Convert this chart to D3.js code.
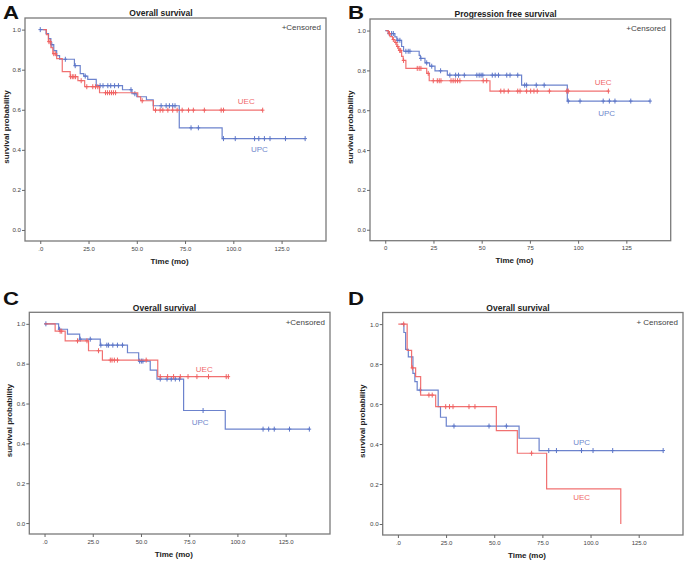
<!DOCTYPE html>
<html><head><meta charset="utf-8">
<script src="https://cdn.jsdelivr.net/npm/d3@7"></script>
<style>body{margin:0;background:#fff;} svg{display:block;font-family:"Liberation Sans",Arial,sans-serif;}</style>
</head><body><svg id="c" width="685" height="561"></svg>
<script>
// ---------- shared axis data ----------
const timeTicks = [0, 25, 50, 75, 100, 125];
const timeLabelsDec = [".0", "25.0", "50.0", "75.0", "100.0", "125.0"];
const timeLabelsInt = ["0", "25", "50", "75", "100", "125"];
const survTicks = [0, 0.2, 0.4, 0.6, 0.8, 1.0];
const survLabels = ["0.0", "0.2", "0.4", "0.6", "0.8", "1.0"];
const groups = ["UEC", "UPC"];

// ---------- Panel A: Overall survival ----------
const uecA_steps = [[3.2,0.975],[4.2,0.94],[5.5,0.91],[6.5,0.88],[8.5,0.855],[11.4,0.79],[15.5,0.765],[19.5,0.745],[23,0.715],[30.7,0.685],[50.5,0.665],[52,0.645],[58.6,0.598]];
const uecA_censor = [4.5,5.2,7,7.8,15.7,16.6,17.4,18.3,21.2,24.1,27.2,28.6,29.8,33.8,34.8,35.9,36.9,37.9,39,52.8,59.7,62.1,63.5,66.1,68.6,70.9,73.5,76.8,79.3,85,93.7,94.9,115.2];
const uecA_range = [1.5, 115.2];
const upcA_steps = [[3,0.98],[4.3,0.955],[5.5,0.925],[7,0.895],[8.5,0.87],[10,0.852],[17.7,0.82],[20.7,0.78],[22.5,0.768],[24.6,0.752],[29,0.72],[42.6,0.70],[47.5,0.68],[50,0.665],[55,0.65],[58.5,0.62],[72,0.51],[94.2,0.456]];
const upcA_censor = [0,6,13,18.1,23.3,31,32.5,35,36.5,38.5,40.5,47,49,62.6,65.2,66.9,68.6,69.8,78.1,81.9,94.9,101,111,113.2,116.1,119,127,137.2];
const upcA_range = [0, 137.2];

// ---------- Panel B: Progression free survival ----------
const uecB_steps = [[1.6,0.985],[2.5,0.97],[3.8,0.955],[5,0.94],[6,0.92],[7,0.9],[8.5,0.87],[9.3,0.85],[10.7,0.81],[21.5,0.785],[22.8,0.748],[54.3,0.696]];
const uecB_censor = [2.2,4.2,5.5,6.5,7.5,8,9.5,16.6,17.6,18.5,22.3,24.9,27,28,28.9,34.1,35.2,36.3,37.5,38.7,50.8,52.6,59.9,61.6,63.8,68.7,69.9,73.3,75.4,77.1,78.8,85.1,94.1,94.9,115.7];
const uecB_range = [0.3, 115.7];
const upcB_steps = [[1.5,0.985],[5,0.968],[6,0.951],[8.5,0.92],[9.5,0.896],[17.6,0.875],[18.2,0.86],[20.6,0.838],[23,0.821],[25.8,0.798],[32.2,0.776],[70.7,0.726],[94.4,0.646]];
const upcB_censor = [2.1,3.3,4.2,6.5,7.6,10.7,11.9,12.8,18.5,21.5,24.1,28.7,33.5,36.5,38,41,47.5,48.7,49.7,50.6,55.5,57,58.7,63,64.7,68.7,72.3,73.3,78.3,82.4,94.9,101,113,116.2,119.1,127.3,137.3];
const upcB_range = [0, 137.3];

// ---------- Panel C: Overall survival ----------
const uecC_steps = [[5.5,0.963],[10.7,0.915],[22.8,0.865],[30,0.818],[58.7,0.735]];
const uecC_censor = [8.1,8.9,17.1,22,28,34.1,35,36.2,37.8,52.7,60,63.8,66.9,70.4,74.4,79,85,94.2,95.3];
const uecC_range = [0, 95.3];
const upcC_steps = [[7.3,0.973],[11.9,0.948],[18.2,0.923],[28.9,0.893],[43,0.855],[48.8,0.813],[54.8,0.768],[58.3,0.723],[72.1,0.565],[93.7,0.4715]];
const upcC_censor = [0.7,7.8,18.5,23.7,29.2,32.3,33.2,35.4,37.8,40.4,49.3,50.2,51,60,63.5,65.7,67.8,70,82.2,113.3,116.2,119.1,127,137.3];
const upcC_range = [0, 137.3];

// ---------- Panel D: Overall survival ----------
const uecD_steps = [[4.8,0.869],[7.1,0.781],[9.2,0.737],[11.8,0.645],[19.6,0.587],[51.1,0.467],[62,0.354],[77.2,0.176],[115.7,0.0]];
const uecD_censor = [3,7.5,16.1,17.8,24.8,26.8,28.6,36.9,40,69.4];
const uecD_range = [0.2, 115.7];
const upcD_steps = [[3.1,0.958],[4,0.874],[5.4,0.836],[7.8,0.753],[8.8,0.712],[10,0.67],[20.9,0.587],[22.1,0.534],[25.1,0.49],[62.9,0.429],[73.3,0.3675]];
const upcD_censor = [11.6,29.1,47.3,56.3,78.3,82.3,95.3,101.3,111.5,137.7];
const upcD_range = [1.5, 137.7];

const titles = ["Overall survival", "Progression free survival", "Overall survival", "Overall survival"];
const letters = ["A", "B", "C", "D"];
const legendTexts = ["+Censored", "+Censored", "+Censored", "+ Censored"];

// ---------- layout ----------
const COL = {UEC: "#f06262", UPC: "#5c76c8"};
const LBL = {UEC: "#f06a6a", UPC: "#7088cc"};
const xDomain = [-7.9, 148];
const yDomain = [-0.055, 1.058];
const panels = [
  {fx:25, fy:18, fw:301, fh:223, xl:timeLabelsDec, uec:[uecA_steps,uecA_censor,uecA_range], upc:[upcA_steps,upcA_censor,upcA_range],
   lab:{UEC:[106.7,0.643], UPC:[113.5,0.401]}, tx:161, lx:3, ylx:8.5},
  {fx:370, fy:19, fw:300.7, fh:221.7, xl:timeLabelsInt, uec:[uecB_steps,uecB_censor,uecB_range], upc:[upcB_steps,upcB_censor,upcB_range],
   lab:{UEC:[113,0.742], UPC:[114.8,0.584]}, tx:505.5, lx:348, ylx:353},
  {fx:29.3, fy:312.3, fw:300.7, fh:221.7, xl:timeLabelsDec, uec:[uecC_steps,uecC_censor,uecC_range], upc:[upcC_steps,upcC_censor,upcC_range],
   lab:{UEC:[82.8,0.77], UPC:[80.7,0.508]}, tx:164.5, lx:3, ylx:11.5},
  {fx:382.7, fy:312.5, fw:300.3, fh:222.5, xl:timeLabelsDec, uec:[uecD_steps,uecD_censor,uecD_range], upc:[upcD_steps,upcD_censor,upcD_range],
   lab:{UEC:[95.4,0.133], UPC:[95.4,0.41]}, tx:518, lx:348, ylx:364.5}
];

const svg = d3.select("#c");

function survAt(steps, t) {
  let s = 1;
  for (const [st, sv] of steps) { if (st <= t) s = sv; else break; }
  return s;
}

panels.forEach((p, i) => {
  const g = svg.append("g");
  const x = d3.scaleLinear().domain(xDomain).range([p.fx, p.fx + p.fw]);
  const y = d3.scaleLinear().domain(yDomain).range([p.fy + p.fh, p.fy]);

  // letter
  const ly = p.fy < 100 ? 18.5 : 304.5;
  g.append("text").attr("transform", `translate(${p.lx},${ly}) scale(1.2,1)`)
    .attr("font-size", 18.5).attr("font-weight", 900).attr("fill", "#111").text(letters[i]);
  // title
  g.append("text").attr("x", p.tx).attr("y", p.fy - 1.6).attr("text-anchor", "middle")
    .attr("font-size", 8.5).attr("font-weight", "bold").attr("fill", "#222").text(titles[i]);

  // frame
  g.append("rect").attr("x", p.fx).attr("y", p.fy).attr("width", p.fw).attr("height", p.fh)
    .attr("fill", "none").attr("stroke", "#7a7a7a").attr("stroke-width", 1.3);

  // x axis
  const xa = g.append("g").attr("transform", `translate(0,${p.fy + p.fh})`)
    .call(d3.axisBottom(x).tickValues(timeTicks).tickSize(3).tickPadding(2.3)
      .tickFormat((d, k) => p.xl[k]));
  xa.select(".domain").remove();
  xa.selectAll("line").attr("stroke", "#666");
  xa.selectAll("text").attr("font-size", 6).attr("fill", "#444").attr("font-family", "Liberation Sans, Arial, sans-serif");

  // y axis
  const ya = g.append("g").attr("transform", `translate(${p.fx},0)`)
    .call(d3.axisLeft(y).tickValues(survTicks).tickSize(3).tickPadding(1)
      .tickFormat((d, k) => survLabels[k]));
  ya.select(".domain").remove();
  ya.selectAll("line").attr("stroke", "#666");
  ya.selectAll("text").attr("font-size", 6.2).attr("fill", "#444").attr("font-family", "Liberation Sans, Arial, sans-serif");

  // axis titles
  g.append("text").attr("x", x(67)).attr("y", p.fy + p.fh + 22.5).attr("text-anchor", "middle")
    .attr("font-size", 8).attr("font-weight", "bold").attr("fill", "#222").text("Time (mo)");
  g.append("text").attr("transform", `translate(${p.ylx},${p.fy + p.fh / 2 - 2.5}) rotate(-90)`)
    .attr("text-anchor", "middle").attr("font-size", 8).attr("font-weight", "bold").attr("fill", "#222")
    .text("survival probability");

  // legend
  g.append("text").attr("x", p.fx + p.fw - 5).attr("y", p.fy + 12.2).attr("text-anchor", "end")
    .attr("font-size", 8).attr("fill", "#444").text(legendTexts[i]);

  const line = d3.line().x(d => x(d[0])).y(d => y(d[1]));
  ["UPC", "UEC"].forEach(gr => {
    const [steps, cens, range] = gr === "UEC" ? p.uec : p.upc;
    const pts = [[range[0], 1]];
    let cur = 1;
    steps.forEach(([t, s]) => { pts.push([t, cur]); pts.push([t, s]); cur = s; });
    if (range[1] > steps[steps.length - 1][0]) pts.push([range[1], cur]);
    g.append("path").attr("d", line(pts)).attr("fill", "none").attr("stroke", COL[gr])
      .attr("stroke-width", 1.2).attr("stroke-opacity", 0.9);
    g.append("g").selectAll("path").data(cens).join("path")
      .attr("d", t => {
        const cx = x(t), cy = y(survAt(steps, t));
        return `M${cx - 1.8},${cy}H${cx + 1.8}M${cx},${cy - 2.5}V${cy + 2.5}`;
      })
      .attr("stroke", COL[gr]).attr("stroke-width", 1).attr("fill", "none");
    g.append("text").attr("x", x(p.lab[gr][0])).attr("y", y(p.lab[gr][1]))
      .attr("dy", "0.35em").attr("text-anchor", "middle").attr("font-size", 8)
      .attr("fill", LBL[gr]).text(gr);
  });
});
</script></body></html>
